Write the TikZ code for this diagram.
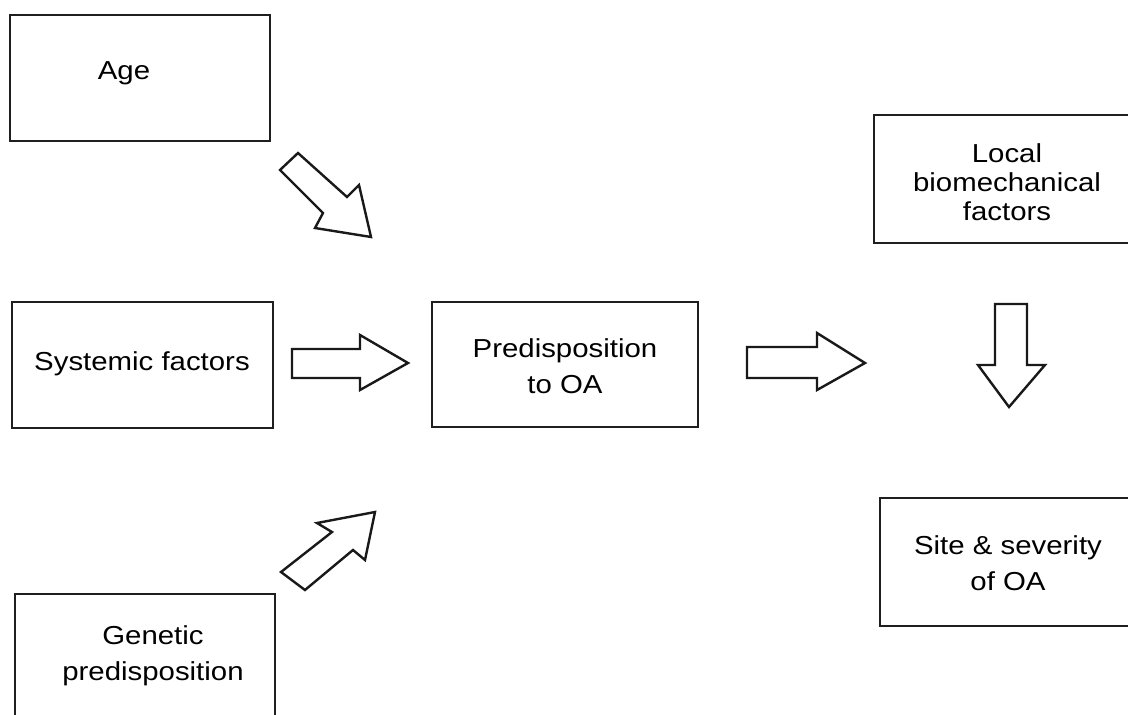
\documentclass[tikz,border=0pt]{standalone}
\usepackage{fontspec}
\setmainfont[FakeStretch=1.13]{Liberation Sans}
\begin{document}
\begin{tikzpicture}[x=1pt,y=-1pt,
  box/.style={draw=black!88,line width=1.9pt,rectangle,inner sep=0pt},
  txt/.style={inner sep=0pt,align=center,font=\fontsize{26}{36}\selectfont},
  blockarrow/.style={draw=black!90,line width=2.4pt,fill=white,line join=miter}]
\useasboundingbox (0,0) rectangle (1128,715);
\clip (0,0) rectangle (1128,715);
% boxes
\node[box,minimum width=260pt,minimum height=126pt] (age) at (140,78) {};
\node[box,minimum width=261pt,minimum height=126pt] (sys) at (142.5,365) {};
\node[box,minimum width=266pt,minimum height=125pt] (pred) at (565,364.5) {};
\node[box,minimum width=266pt,minimum height=128pt] (local) at (1007,179) {};
\node[box,minimum width=258pt,minimum height=128pt] (site) at (1009,562) {};
\node[box,minimum width=260pt,minimum height=130pt] (gen) at (145,659) {};
% texts
\node[txt] (agetxt) at (124,73) {Age};
\node[txt] (systxt) at (142,364) {Systemic factors};
\node[txt] (predtxt) at (565,366) {Predisposition\\to OA};
\node[txt,font=\fontsize{26}{29}\selectfont] (localtxt) at (1007,182) {Local\\biomechanical\\factors};
\node[txt] (sitetxt) at (1008,563) {Site \& severity\\of OA};
\node[txt] (gentxt) at (153,656) {Genetic\\predisposition};
% block arrows
\draw[blockarrow] (280,170) -- (298,153) -- (347,197) -- (359,185) -- (371,237) -- (315,228) -- (323,213) -- cycle;
\draw[blockarrow] (292,349) -- (360,349) -- (360,335) -- (408,363) -- (360,390) -- (360,378) -- (292,378) -- cycle;
\draw[blockarrow] (747,347) -- (817,347) -- (817,333) -- (865,363) -- (817,390) -- (817,378) -- (747,378) -- cycle;
\draw[blockarrow] (995,304) -- (1027,304) -- (1027,365) -- (1045,365) -- (1009,407) -- (978,365) -- (995,365) -- cycle;
\draw[blockarrow] (281,572) -- (332,532) -- (317,523) -- (375,512) -- (365,560) -- (353,550) -- (305,590) -- cycle;
\end{tikzpicture}
\end{document}
